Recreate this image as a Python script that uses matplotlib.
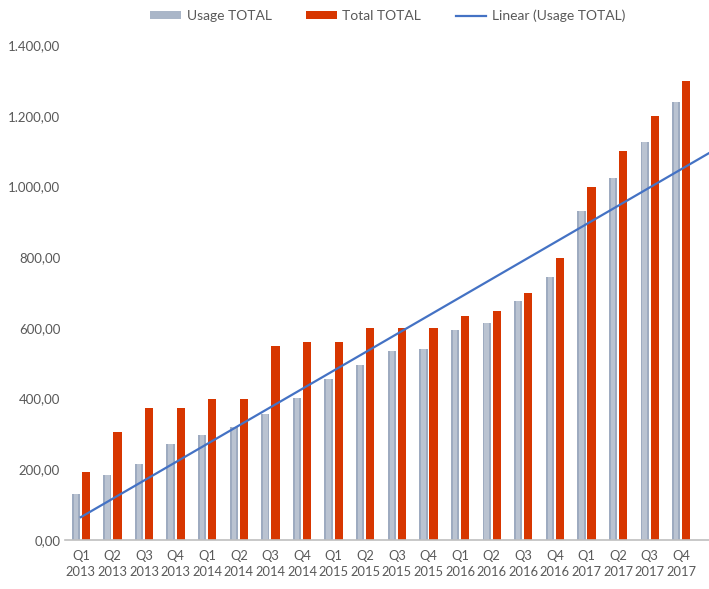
import numpy as np
import matplotlib.pyplot as plt
from matplotlib.ticker import FuncFormatter
from matplotlib.lines import Line2D
from matplotlib.patches import Patch

# data
quarters = ['Q1', 'Q2', 'Q3', 'Q4'] * 5
years = [y for y in ['2013', '2014', '2015', '2016', '2017'] for _ in range(4)]
usage = [130, 183, 215, 272, 297, 320, 356, 401, 455, 494,
         534, 540, 593, 613, 675, 743, 930, 1024, 1125, 1239]
total = [193, 305, 373, 373, 399, 399, 549, 560, 560, 600,
         600, 600, 634, 648, 698, 798, 1000, 1100, 1200, 1300]

plt.rcParams['font.family'] = ['Lato', 'DejaVu Sans']

fig = plt.figure(figsize=(7.09, 5.89), dpi=100)
ax = fig.add_axes([0.0917, 0.0832, 0.908, 0.840])

x = np.arange(len(usage))
w = 0.26
off = 0.16

# gray bars with a lighter centre to mimic the gradient
ax.bar(x - off, usage, w, color='#9eabc0', zorder=2)
ax.bar(x - off, usage, w * 0.55, color='#bac3d1', zorder=2)
ax.bar(x + off, total, w, color='#d73600', zorder=2)

# linear trendline of usage
k, b = np.polyfit(x, usage, 1)
xt = np.array([0, 19.9])
ax.plot(xt, k * xt + b, color='#4472c4', lw=1.6, zorder=3)

ax.set_xlim(-0.5, 19.87)
ax.set_ylim(0, 1400)
ax.set_yticks(range(0, 1401, 200))

def de_fmt(v, pos):
    s = '{:,.2f}'.format(v)
    return s.replace(',', 'X').replace('.', ',').replace('X', '.')

ax.yaxis.set_major_formatter(FuncFormatter(de_fmt))
ax.set_xticks(x)
ax.set_xticklabels([q + '\n' + y for q, y in zip(quarters, years)],
                   linespacing=1.45)
ax.tick_params(length=0, colors='#595959', labelsize=9.5)
ax.tick_params(axis='x', pad=7, labelsize=9.3)

for s in ['top', 'right', 'left']:
    ax.spines[s].set_visible(False)
ax.spines['bottom'].set_color('#bfbfbf')
ax.spines['bottom'].set_linewidth(1.2)

handles = [Patch(facecolor='#aab6c8', label='Usage TOTAL'),
           Patch(facecolor='#d73600', label='Total TOTAL'),
           Line2D([0], [0], color='#4472c4', lw=1.6, label='Linear (Usage TOTAL)')]
leg = fig.legend(handles=handles, loc='upper center', bbox_to_anchor=(0.547, 1.005),
                 ncol=3, frameon=False, fontsize=10, handlelength=2.2,
                 handleheight=0.45, columnspacing=2.5, handletextpad=0.4)
for t in leg.get_texts():
    t.set_color('#595959')

plt.savefig('out.png', dpi=100)
